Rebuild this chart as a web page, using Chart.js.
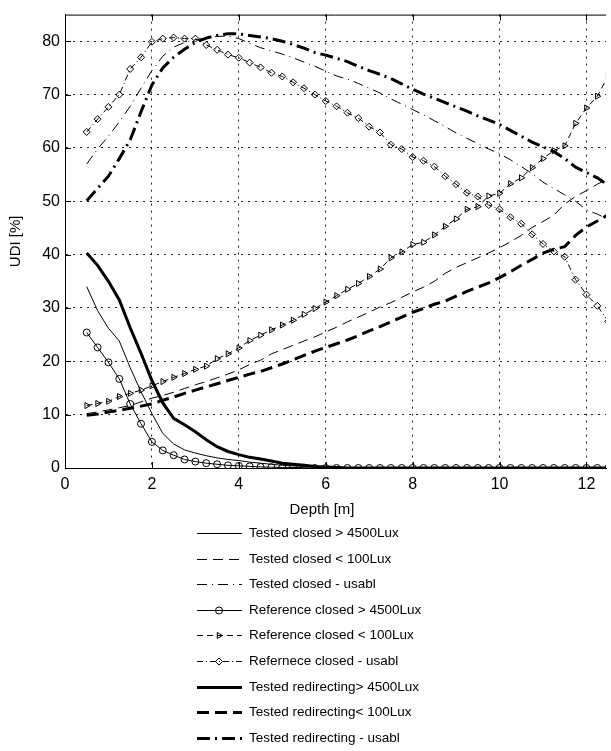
<!DOCTYPE html>
<html>
<head>
<meta charset="utf-8">
<title>UDI vs depth</title>
<script src="https://cdn.jsdelivr.net/npm/chart.js@4.4.1/dist/chart.umd.min.js"></script>
<style>
  html, body { margin: 0; padding: 0; background: #fff; }
  canvas { display: block; }
</style>
</head>
<body>
<canvas id="udiChart" width="611" height="751"></canvas>
<script>
// depth from the window [m], sampled every 0.25 m
const depth = [
  0.5, 0.75, 1.0, 1.25, 1.5, 1.75, 2.0, 2.25, 2.5, 2.75,
  3.0, 3.25, 3.5, 3.75, 4.0, 4.25, 4.5, 4.75, 5.0, 5.25,
  5.5, 5.75, 6.0, 6.25, 6.5, 6.75, 7.0, 7.25, 7.5, 7.75,
  8.0, 8.25, 8.5, 8.75, 9.0, 9.25, 9.5, 9.75, 10.0, 10.25,
  10.5, 10.75, 11.0, 11.25, 11.5, 11.75, 12.0, 12.25, 12.5
]

// UDI [%] per series
const testedClosedHigh = [
  34.0, 29.5, 26.2, 23.8, 18.8, 14.3, 10.2, 6.5, 4.5, 3.4,
  2.8, 2.3, 1.9, 1.6, 1.4, 1.1, 0.9, 0.7, 0.5, 0.4,
  0.3, 0.2, 0.1, 0, 0, 0, 0, 0, 0, 0,
  0, 0, 0, 0, 0, 0, 0, 0, 0, 0,
  0, 0, 0, 0, 0, 0, 0, 0, 0
]
const testedClosedLow = [
  10.2, 10.5, 10.9, 11.3, 11.7, 12.4, 13.1, 13.6, 14.2, 14.9,
  15.6, 16.2, 16.9, 17.6, 18.4, 19.4, 20.2, 21.4, 22.2, 23.0,
  23.8, 24.6, 25.5, 26.4, 27.4, 28.3, 29.2, 30.2, 31.0, 32.0,
  33.0, 33.9, 35.0, 36.5, 37.6, 38.5, 39.4, 40.3, 41.3, 42.4,
  43.6, 45.1, 46.2, 47.4, 49.5, 50.9, 52.0, 53.2, 54.2
]
const testedClosedUsable = [
  57.0, 59.8, 62.2, 64.9, 67.8, 71.2, 74.5, 77.2, 78.9, 79.8,
  80.3, 80.6, 80.9, 81.0, 80.5, 79.6, 78.8, 78.2, 77.6, 76.9,
  76.1, 75.3, 74.4, 73.5, 72.9, 72.1, 71.2, 70.3, 69.2, 68.2,
  67.2, 66.2, 65.1, 64.0, 62.8, 61.8, 60.8, 59.8, 58.9, 57.8,
  56.5, 55.2, 53.6, 52.4, 51.2, 50.0, 48.4, 47.6, 46.6
]
const refClosedHigh = [
  25.4, 22.6, 19.8, 16.7, 12.0, 8.3, 4.9, 3.3, 2.4, 1.6,
  1.2, 0.9, 0.7, 0.5, 0.4, 0.3, 0.2, 0.15, 0.1, 0.1,
  0.05, 0, 0, 0, 0, 0, 0, 0, 0, 0,
  0, 0, 0, 0, 0, 0, 0, 0, 0, 0,
  0, 0, 0, 0, 0, 0, 0, 0, 0
]
const refClosedLow = [
  11.7, 12.1, 12.5, 13.4, 14.0, 14.6, 15.4, 16.2, 17.0, 17.7,
  18.5, 19.1, 20.5, 21.4, 22.5, 23.9, 24.9, 25.9, 26.8, 27.7,
  28.8, 29.9, 31.1, 32.3, 33.5, 34.6, 35.9, 37.3, 39.4, 40.5,
  41.9, 42.3, 43.7, 45.3, 46.7, 48.5, 49.0, 51.0, 51.5, 53.3,
  54.4, 56.3, 58.0, 59.5, 60.4, 64.6, 67.5, 69.7, 73.5
]
const refClosedUsable = [
  63.0, 65.4, 67.7, 70.0, 74.8, 77.0, 79.9, 80.5, 80.7, 80.5,
  80.5, 79.3, 78.4, 77.5, 76.9, 76.0, 75.1, 74.1, 73.4, 72.3,
  71.2, 70.0, 68.8, 67.8, 66.6, 65.6, 64.0, 62.9, 60.6, 59.8,
  58.3, 57.6, 56.5, 54.7, 53.2, 51.6, 50.9, 49.3, 48.5, 47.0,
  45.8, 43.8, 42.0, 40.6, 39.6, 35.3, 32.5, 30.4, 27.5
]
const redirHigh = [
  40.3, 38.0, 35.0, 31.5, 26.3, 21.5, 16.4, 12.2, 9.3, 8.1,
  6.8, 5.3, 4.0, 3.1, 2.5, 2.0, 1.7, 1.3, 0.9, 0.7,
  0.5, 0.3, 0.2, 0.1, 0, 0, 0, 0, 0, 0,
  0, 0, 0, 0, 0, 0, 0, 0, 0, 0,
  0, 0, 0, 0, 0, 0, 0, 0, 0
]
const redirLow = [
  9.9, 10.1, 10.5, 10.8, 11.2, 11.6, 12.0, 12.7, 13.3, 14.0,
  14.6, 15.2, 15.8, 16.4, 17.0, 17.6, 18.1, 18.8, 19.5, 20.3,
  21.1, 21.9, 22.6, 23.3, 24.0, 24.8, 25.7, 26.5, 27.4, 28.3,
  29.2, 29.9, 30.7, 31.3, 32.2, 33.1, 33.9, 34.7, 35.7, 36.8,
  38.0, 39.1, 40.3, 41.0, 41.5, 43.6, 45.2, 46.3, 47.5
]
const redirUsable = [
  50.1, 52.4, 54.7, 58.0, 61.5, 66.8, 71.8, 75.0, 77.0, 78.5,
  79.8, 80.6, 81.1, 81.4, 81.4, 81.1, 80.8, 80.5, 80.0, 79.4,
  78.7, 77.9, 77.4, 76.8, 76.2, 75.3, 74.5, 73.8, 73.0, 72.0,
  71.0, 70.1, 69.3, 68.5, 67.7, 66.9, 66.0, 65.2, 64.4, 63.3,
  62.2, 61.1, 60.2, 59.3, 58.0, 56.4, 55.4, 54.4, 53.0
]

const xTicks = [0, 2, 4, 6, 8, 10, 12]
const yTicks = [0, 10, 20, 30, 40, 50, 60, 70, 80]

const seriesNames = [
  'Tested closed > 4500Lux',
  'Tested closed < 100Lux',
  'Tested closed - usabl',
  'Reference closed > 4500Lux',
  'Reference closed < 100Lux',
  'Refernece closed - usabl',
  'Tested redirecting> 4500Lux',
  'Tested redirecting< 100Lux',
  'Tested redirecting - usabl'
]

const FONT = '"Liberation Sans", Arial, sans-serif'
Chart.defaults.font.family = FONT
Chart.defaults.color = '#000'

const pts = vals => depth.map((d, i) => ({ x: d, y: vals[i] }))

function line (name, vals, width, dash, marker) {
  return {
    label: name,
    data: pts(vals),
    borderColor: '#000',
    borderWidth: width,
    borderDash: dash,
    backgroundColor: 'rgba(0,0,0,0)',
    pointRadius: marker ? 3.5 : 0,
    pointStyle: marker ? marker.style : 'circle',
    pointRotation: marker ? marker.rotation : 0,
    pointBorderWidth: 1,
    pointBorderColor: '#000',
    pointBackgroundColor: 'rgba(0,0,0,0)',
    tension: 0,
    fill: false
  }
}

const datasets = [
  line(seriesNames[0], testedClosedHigh, 1, []),
  line(seriesNames[1], testedClosedLow, 1, [10, 6]),
  line(seriesNames[2], testedClosedUsable, 1, [10, 5, 1, 5]),
  line(seriesNames[3], refClosedHigh, 1, [], { style: 'circle', rotation: 0 }),
  line(seriesNames[4], refClosedLow, 1, [6, 4], { style: 'triangle', rotation: 90 }),
  line(seriesNames[5], refClosedUsable, 1, [6, 3, 1, 3], { style: 'rectRot', rotation: 0 }),
  line(seriesNames[6], redirHigh, 3, []),
  line(seriesNames[7], redirLow, 3, [12, 6]),
  line(seriesNames[8], redirUsable, 3, [13, 5, 2, 5])
]

// box top edge, inward ticks, x label and the legend under the axes
const extras = {
  id: 'extras',
  afterDraw (chart) {
    const { ctx, chartArea: a, scales: { x, y } } = chart
    ctx.save()
    ctx.strokeStyle = '#000'
    ctx.lineWidth = 1
    ctx.setLineDash([])
    ctx.beginPath()
    ctx.moveTo(a.left, a.top + 0.5)
    ctx.lineTo(a.right, a.top + 0.5)
    xTicks.forEach(v => {
      const px = Math.round(x.getPixelForValue(v)) + 0.5
      ctx.moveTo(px, a.bottom)
      ctx.lineTo(px, a.bottom - 6)
      ctx.moveTo(px, a.top)
      ctx.lineTo(px, a.top + 6)
    })
    yTicks.forEach(v => {
      const py = Math.round(y.getPixelForValue(v)) + 0.5
      ctx.moveTo(a.left, py)
      ctx.lineTo(a.left + 6, py)
    })
    ctx.stroke()

    ctx.fillStyle = '#000'
    ctx.textBaseline = 'middle'
    ctx.textAlign = 'center'
    ctx.font = '15px ' + FONT
    ctx.fillText('Depth [m]', 322, 510)

    // legend
    ctx.font = '13.5px ' + FONT
    ctx.textAlign = 'left'
    chart.data.datasets.forEach((ds, i) => {
      const ly = Math.round(533 + i * 25.6) + 0.5
      ctx.save()
      ctx.lineWidth = ds.borderWidth
      ctx.setLineDash(ds.borderDash)
      ctx.beginPath()
      ctx.moveTo(197, ly)
      ctx.lineTo(242, ly)
      ctx.stroke()
      ctx.restore()
      if (ds.pointRadius > 0) {
        ctx.save()
        ctx.setLineDash([])
        ctx.lineWidth = 1
        ctx.fillStyle = 'rgba(0,0,0,0)'
        Chart.helpers.drawPoint(ctx, {
          pointStyle: ds.pointStyle,
          rotation: ds.pointRotation,
          radius: 3.5,
          borderWidth: 1
        }, 219, ly)
        ctx.restore()
      }
      ctx.fillText(ds.label, 249, ly)
    })
    ctx.restore()
  }
}

const gridOpts = { color: '#222', lineWidth: 1, drawTicks: false }
const borderOpts = { display: true, color: '#000', width: 1, dash: [2, 5] }

new Chart(document.getElementById('udiChart'), {
  type: 'line',
  data: { datasets },
  options: {
    responsive: false,
    animation: false,
    devicePixelRatio: 1,
    layout: { padding: { top: 9, right: 0, bottom: 0, left: 0 } },
    plugins: {
      legend: { display: false },
      tooltip: { enabled: false }
    },
    scales: {
      x: {
        type: 'linear',
        min: 0,
        max: 12.45,
        afterBuildTicks: s => { s.ticks = xTicks.map(v => ({ value: v })) },
        afterFit: s => { s.height = 751 - 468 },
        grid: gridOpts,
        border: borderOpts,
        ticks: { padding: 7, font: { size: 16 }, maxRotation: 0 }
      },
      y: {
        type: 'linear',
        min: 0,
        max: 85,
        afterBuildTicks: s => { s.ticks = yTicks.map(v => ({ value: v })) },
        afterFit: s => { s.width = 65 },
        grid: gridOpts,
        border: borderOpts,
        ticks: { padding: 5, font: { size: 16 } },
        title: { display: true, text: 'UDI [%]', font: { size: 15 }, padding: { top: 7, bottom: 0 } }
      }
    }
  },
  plugins: [extras]
})
</script>
</body>
</html>
